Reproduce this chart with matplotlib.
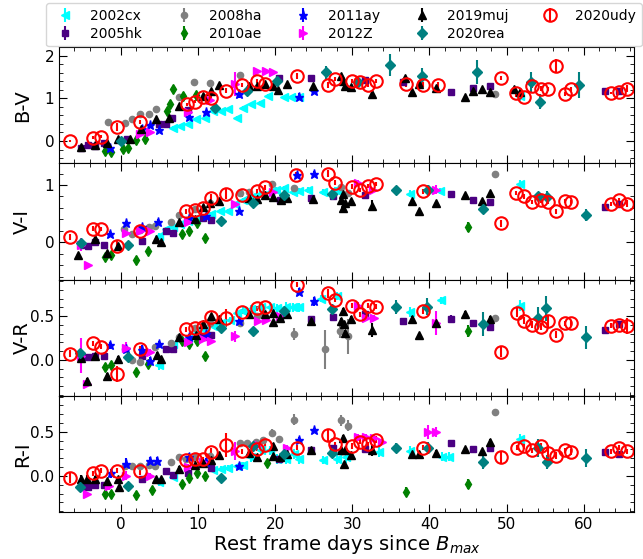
import matplotlib
matplotlib.use("Agg")
import matplotlib.pyplot as plt
from matplotlib.ticker import MultipleLocator

# colour-curve data: (rest-frame day, colour, error)
sn_names = ["2002cx", "2005hk", "2008ha", "2010ae", "2011ay",
            "2012Z", "2019muj", "2020rea", "2020udy"]

cx02_bv = [(6.8, 0.31, .03), (7.7, 0.34, .03), (8.7, 0.39, .03), (9.8, 0.51, .03), (10.9, 0.55, .03),
           (12.0, 0.71, .03), (13.0, 0.71, .03), (13.9, 0.75, .03), (15.0, 0.55, .04), (15.8, 0.78, .03),
           (16.9, 0.86, .03), (18.0, 0.90, .03), (19.1, 1.06, .04), (21.2, 1.02, .04), (22.1, 1.02, .04),
           (23.1, 1.04, .04), (51.7, 1.05, .12)]
cx02_vi = [(4.9, 0.11, .05), (5.9, 0.23, .03), (6.8, 0.26, .03), (7.7, 0.32, .03), (8.7, 0.38, .03),
           (9.8, 0.43, .03), (11.7, 0.49, .03), (12.8, 0.55, .03), (13.9, 0.55, .03), (14.8, 0.67, .04),
           (15.9, 0.74, .04), (16.9, 0.79, .04), (18.0, 0.85, .04), (19.3, 0.88, .05), (20.1, 0.92, .05),
           (21.2, 0.94, .05), (22.3, 0.88, .05), (23.1, 0.90, .05), (24.2, 0.91, .05), (26.2, 0.88, .05),
           (27.7, 0.91, .05), (28.0, 0.91, .05), (37.5, 0.85, .06), (41.3, 0.90, .05), (51.7, 1.02, .07)]
cx02_vr = [(4.9, -0.06, .06), (6.8, 0.18, .03), (7.9, 0.22, .03), (8.7, 0.24, .03), (9.8, 0.31, .03),
           (10.9, 0.34, .03), (11.9, 0.39, .03), (13.0, 0.42, .03), (14.2, 0.46, .03), (15.0, 0.54, .04),
           (15.8, 0.56, .04), (16.9, 0.58, .05), (18.2, 0.61, .05), (19.3, 0.61, .05), (20.3, 0.59, .05),
           (21.4, 0.61, .05), (22.3, 0.60, .05), (23.1, 0.60, .05), (25.9, 0.70, .04), (28.0, 0.73, .05),
           (37.5, 0.55, .06), (41.5, 0.68, .04), (51.7, 0.62, .06)]
cx02_ri = [(4.9, -0.07, .05), (6.8, -0.01, .03), (12.0, 0.07, .03), (13.0, 0.08, .03), (13.9, 0.09, .03),
           (15.0, 0.11, .03), (15.9, 0.12, .04), (16.9, 0.21, .05), (18.2, 0.29, .05), (19.3, 0.29, .05),
           (20.3, 0.19, .06), (21.4, 0.19, .06), (22.4, 0.25, .06), (23.1, 0.19, .06), (26.2, 0.18, .05),
           (28.0, 0.19, .05), (29.2, 0.21, .06), (33.5, 0.27, .06), (37.5, 0.28, .06), (41.6, 0.22, .05),
           (42.5, 0.22, .05), (51.7, 0.42, .06)]

hk05_bv = [(-5.2, -0.16, .03), (-4.3, -0.10, .03), (-3.3, -0.12, .03), (-2.2, -0.05, .03), (0.8, 0.04, .03),
           (4.9, 0.39, .03), (5.9, 0.39, .03), (6.7, 0.53, .03), (8.7, 0.73, .03), (20.5, 1.47, .03),
           (24.6, 1.47, .03), (31.6, 1.43, .03), (36.6, 1.37, .03), (42.8, 1.14, .04), (45.7, 1.23, .03),
           (47.8, 1.29, .03), (62.7, 1.18, .03), (64.6, 1.18, .03)]
hk05_vi = [(-5.2, -0.04, .03), (-4.3, -0.07, .03), (-3.3, 0.00, .03), (-2.2, -0.04, .03), (2.7, 0.02, .03),
           (5.8, 0.20, .03), (6.8, 0.17, .03), (10.7, 0.43, .03), (11.7, 0.39, .03), (20.6, 0.74, .03),
           (24.6, 0.78, .03), (27.5, 0.80, .03), (31.6, 0.83, .03), (42.8, 0.85, .03), (45.7, 0.74, .03),
           (47.8, 0.70, .03), (62.7, 0.61, .03), (64.6, 0.67, .03)]
hk05_vr = [(-5.2, 0.05, .03), (-4.3, 0.03, .03), (-3.3, 0.05, .03), (-2.2, 0.04, .03), (2.7, 0.04, .03),
           (5.8, 0.12, .03), (6.8, 0.13, .03), (10.7, 0.26, .03), (11.7, 0.28, .03), (20.6, 0.49, .03),
           (24.6, 0.47, .03), (27.5, 0.49, .03), (31.6, 0.52, .03), (36.6, 0.45, .03), (42.8, 0.47, .04),
           (45.7, 0.42, .03), (47.8, 0.38, .03), (62.7, 0.34, .03), (64.6, 0.41, .03)]
hk05_ri = [(-5.2, -0.13, .03), (-4.3, -0.13, .03), (-3.3, -0.10, .03), (-2.2, -0.10, .03), (2.7, -0.04, .03),
           (5.8, 0.06, .03), (6.8, 0.01, .03), (8.7, 0.03, .03), (11.7, 0.09, .03), (20.5, 0.19, .03),
           (24.6, 0.29, .03), (27.5, 0.32, .03), (31.6, 0.31, .03), (42.8, 0.37, .04), (45.7, 0.31, .03),
           (47.8, 0.32, .03), (62.7, 0.27, .03), (64.6, 0.25, .03)]

ha08_bv = [(-1.6, 0.45, .05), (0.6, 0.43, .03), (1.5, 0.51, .03), (2.5, 0.64, .03), (3.6, 0.63, .03),
           (4.6, 0.76, .03), (7.6, 1.02, .03), (9.5, 1.37, .03), (11.5, 1.36, .03), (15.4, 1.55, .07),
           (48.5, 1.11, .03)]
ha08_vi = [(0.4, 0.23, .03), (1.4, 0.15, .03), (2.5, 0.21, .03), (3.6, 0.26, .03), (4.4, 0.29, .03),
           (6.5, 0.36, .03), (7.6, 0.48, .03), (9.6, 0.58, .03), (11.5, 0.68, .03), (15.4, 0.86, .03),
           (16.6, 0.88, .03), (19.6, 1.01, .04), (22.5, 0.95, .05), (28.6, 0.96, .04), (29.5, 0.86, .04),
           (48.5, 1.20, .03)]
ha08_vr = [(0.6, 0.12, .03), (1.5, 0.00, .03), (2.5, -0.02, .03), (3.4, 0.09, .03), (4.4, 0.15, .03),
           (6.5, 0.19, .03), (7.6, 0.26, .03), (9.6, 0.37, .03), (11.5, 0.42, .03), (15.4, 0.42, .04),
           (17.6, 0.50, .03), (18.6, 0.53, .03), (22.5, 0.30, .07), (26.5, 0.12, .22), (28.4, 0.33, .08),
           (29.5, 0.27, .20), (48.5, 0.48, .03)]
ha08_ri = [(0.6, 0.11, .03), (1.5, 0.11, .03), (2.5, 0.11, .03), (3.6, 0.12, .03), (4.4, 0.11, .03),
           (6.5, 0.16, .03), (7.6, 0.22, .03), (8.5, 0.19, .03), (9.6, 0.21, .03), (11.5, 0.23, .03),
           (15.5, 0.37, .03), (16.4, 0.37, .03), (17.5, 0.39, .03), (18.4, 0.41, .03), (19.6, 0.49, .04),
           (20.5, 0.42, .03), (22.5, 0.64, .06), (28.5, 0.63, .06), (29.5, 0.57, .06), (48.5, 0.72, .04)]

ae10_bv = [(-2.0, -0.24, .05), (-1.2, -0.26, .05), (0.3, -0.18, .04), (1.0, -0.16, .04), (2.0, 0.02, .04),
           (3.1, 0.05, .04), (6.0, 0.71, .05), (6.4, 0.86, .05), (6.8, 1.22, .05), (8.1, 1.06, .04),
           (9.7, 1.07, .04)]
ae10_vi = [(-2.0, -0.25, .04), (-1.2, -0.22, .04), (2.0, -0.31, .04), (3.5, -0.16, .04), (7.9, 0.15, .04),
           (8.9, 0.20, .04), (9.9, 0.33, .04), (10.9, 0.07, .05), (45.0, 0.27, .09)]
ae10_vr = [(-2.0, -0.08, .03), (-1.2, -0.06, .03), (2.0, -0.14, .03), (3.5, -0.05, .03), (7.9, 0.22, .03),
           (8.9, 0.18, .03), (9.9, 0.22, .03), (10.9, 0.05, .03), (45.0, 0.33, .07)]
ae10_ri = [(-2.0, -0.21, .03), (-1.2, -0.21, .03), (2.0, -0.22, .03), (4.0, -0.16, .03), (7.9, -0.09, .03),
           (8.9, -0.02, .03), (9.9, 0.03, .03), (10.9, 0.00, .04), (18.9, 0.15, .03), (37.0, -0.18, .05),
           (45.0, -0.09, .06)]

ay11_bv = [(-1.4, -0.16, .04), (2.7, 0.29, .04), (3.8, 0.37, .04), (4.9, 0.26, .04), (8.9, 0.57, .04),
           (11.0, 0.68, .04), (15.3, 1.10, .10), (23.1, 1.04, .08), (25.1, 1.18, .06)]
ay11_vi = [(-1.4, 0.15, .05), (0.7, 0.33, .05), (2.7, 0.26, .05), (4.8, 0.36, .05), (8.9, 0.42, .04),
           (11.0, 0.46, .04), (15.3, 0.55, .05), (22.9, 1.18, .04), (25.1, 1.20, .05)]
ay11_vr = [(-1.4, 0.17, .04), (0.7, 0.13, .05), (2.7, 0.11, .06), (3.8, -0.01, .04), (4.9, 0.18, .04),
           (8.9, 0.26, .04), (11.0, 0.30, .04), (15.3, 0.45, .04), (23.1, 0.78, .04), (25.1, 0.67, .05)]
ay11_ri = [(-1.3, 0.03, .05), (0.7, 0.14, .06), (3.8, 0.17, .04), (4.7, 0.17, .04), (8.9, 0.22, .04),
           (11.0, 0.16, .04), (15.3, 0.11, .04), (23.1, 0.41, .03), (25.1, 0.52, .02)]

z12_bv = [(2.5, 0.17, .03), (3.8, 0.20, .03), (8.7, 0.67, .03), (11.5, 0.95, .03), (14.8, 1.33, .28),
          (17.6, 1.65, .03), (18.8, 1.65, .03), (19.7, 1.62, .03)]
z12_vi = [(-5.2, -0.04, .12), (-4.3, -0.40, .02), (0.7, 0.17, .03), (2.5, 0.20, .03), (3.8, 0.20, .03),
          (8.7, 0.35, .03), (14.8, 0.67, .03), (19.7, 0.88, .03), (30.8, 1.04, .04), (32.7, 0.92, .03),
          (40.8, 0.92, .08)]
z12_vr = [(-5.2, 0.05, .20), (-4.4, -0.28, .02), (0.7, 0.14, .06), (3.8, 0.09, .03), (8.7, 0.21, .03),
          (10.7, 0.24, .03), (11.7, 0.22, .03), (14.8, 0.27, .06), (17.8, 0.45, .03), (18.8, 0.46, .03),
          (20.6, 0.50, .03), (30.8, 0.62, .04), (31.8, 0.48, .03), (32.8, 0.48, .03), (40.8, 0.42, .14)]
z12_ri = [(-4.4, -0.21, .02), (-1.5, -0.12, .04), (0.7, 0.00, .05), (3.8, 0.00, .03), (8.7, 0.10, .03),
          (10.7, 0.16, .03), (14.8, 0.28, .10), (17.8, 0.35, .03), (21.6, 0.32, .03), (30.8, 0.44, .04),
          (31.8, 0.44, .04), (32.8, 0.43, .04), (33.9, 0.39, .03), (39.8, 0.50, .08), (40.9, 0.50, .06)]

muj19_bv = [(-5.2, -0.13, .03), (-3.3, -0.10, .03), (-1.8, -0.05, .03), (-0.4, 0.05, .03), (1.2, 0.05, .03),
            (2.6, 0.27, .03), (4.6, 0.51, .03), (6.3, 0.55, .03), (7.6, 0.82, .03), (10.6, 1.06, .03),
            (11.7, 1.18, .03), (12.7, 1.32, .03), (16.6, 1.28, .03), (17.6, 1.29, .03), (18.7, 1.33, .03),
            (19.7, 1.29, .03), (20.4, 1.19, .03), (21.6, 1.33, .03), (24.9, 1.29, .03), (28.6, 1.51, .03),
            (28.8, 1.41, .03), (29.1, 1.29, .03), (29.8, 1.27, .03), (32.6, 1.11, .09), (36.8, 1.47, .04),
            (37.8, 1.14, .03), (38.7, 1.33, .03), (40.8, 1.23, .03), (44.6, 1.02, .03), (45.7, 1.18, .03),
            (46.8, 1.22, .03), (47.8, 1.15, .03), (50.9, 1.22, .03), (51.7, 1.14, .03)]
muj19_vi = [(-5.6, -0.22, .03), (-3.4, 0.05, .03), (-1.8, -0.19, .03), (-0.4, -0.07, .03), (4.6, 0.05, .03),
            (5.2, 0.01, .03), (7.6, 0.36, .03), (9.6, 0.40, .03), (10.7, 0.61, .03), (11.6, 0.68, .03),
            (12.7, 0.72, .03), (16.6, 0.78, .03), (17.6, 0.76, .03), (18.7, 0.83, .03), (19.7, 0.79, .03),
            (20.8, 0.73, .03), (21.6, 0.78, .03), (24.9, 0.76, .03), (28.6, 0.74, .03), (28.8, 0.85, .03),
            (28.8, 0.60, .03), (29.1, 0.68, .03), (29.8, 0.72, .03), (32.6, 0.64, .09), (37.8, 0.72, .03),
            (38.7, 0.54, .03), (40.8, 0.68, .03), (44.6, 0.83, .03), (46.8, 0.72, .03), (47.8, 0.86, .03)]
muj19_vr = [(-5.1, 0.02, .03), (-4.4, -0.24, .03), (-3.3, 0.05, .03), (-1.8, -0.18, .03), (-0.3, 0.01, .03),
            (4.7, 0.06, .03), (5.2, 0.01, .03), (7.6, 0.26, .03), (9.7, 0.29, .03), (10.7, 0.41, .03),
            (11.7, 0.50, .03), (12.7, 0.47, .03), (16.6, 0.52, .03), (18.7, 0.52, .03), (19.7, 0.54, .03),
            (19.7, 0.43, .03), (20.6, 0.48, .03), (21.6, 0.53, .03), (24.6, 0.45, .03), (28.6, 0.45, .03),
            (28.8, 0.56, .03), (28.9, 0.41, .03), (29.1, 0.31, .03), (29.8, 0.47, .03), (32.6, 0.34, .08),
            (37.8, 0.47, .03), (38.7, 0.28, .03), (40.8, 0.42, .03), (44.6, 0.53, .03), (47.8, 0.47, .03)]
muj19_ri = [(-5.2, -0.03, .04), (-4.4, -0.03, .04), (-3.3, -0.04, .04), (-1.8, -0.06, .03), (-0.3, -0.04, .03),
            (-0.2, -0.13, .03), (4.6, -0.04, .03), (5.2, -0.04, .03), (7.6, 0.08, .03), (9.6, 0.12, .03),
            (10.7, 0.15, .03), (11.7, 0.18, .03), (12.7, 0.24, .03), (16.6, 0.26, .03), (17.6, 0.22, .03),
            (19.7, 0.34, .03), (19.7, 0.23, .03), (20.6, 0.21, .03), (21.6, 0.25, .03), (24.6, 0.29, .03),
            (28.6, 0.29, .03), (28.8, 0.43, .03), (28.9, 0.13, .03), (29.1, 0.29, .03), (29.8, 0.24, .03),
            (32.6, 0.29, .06), (37.8, 0.25, .03), (38.7, 0.25, .03), (40.8, 0.26, .03), (44.6, 0.30, .03),
            (46.8, 0.28, .03), (47.8, 0.39, .03)]

rea20_bv = [(0.0, 0.00, .04), (12.2, 0.78, .04), (16.3, 1.18, .05), (20.3, 1.41, .08), (26.6, 1.61, .15),
            (30.8, 1.37, .06), (34.9, 1.78, .26), (39.0, 1.51, .20), (46.1, 1.61, .28), (53.2, 1.37, .25),
            (54.3, 0.92, .17), (59.4, 1.31, .30)]
rea20_vi = [(-5.2, -0.01, .04), (0.9, -0.04, .03), (13.0, 0.38, .03), (17.1, 0.68, .04), (21.2, 0.82, .05),
            (27.4, 0.85, .05), (35.7, 0.92, .07), (39.8, 0.92, .08), (46.9, 0.58, .09), (54.1, 0.80, .08),
            (55.2, 0.79, .10), (60.3, 0.48, .10)]
rea20_vr = [(-5.3, 0.08, .05), (0.9, 0.03, .03), (13.0, 0.36, .03), (17.1, 0.33, .03), (21.2, 0.56, .04),
            (27.4, 0.58, .05), (35.6, 0.60, .08), (39.7, 0.61, .10), (46.9, 0.41, .14), (54.1, 0.48, .12),
            (55.1, 0.59, .14), (60.3, 0.26, .13)]
rea20_ri = [(-5.3, -0.13, .03), (0.9, -0.11, .03), (13.0, -0.02, .03), (17.1, 0.34, .03), (21.2, 0.25, .03),
            (27.4, 0.26, .04), (35.7, 0.32, .05), (39.8, 0.32, .06), (46.9, 0.16, .08), (54.1, 0.32, .10),
            (55.2, 0.16, .08), (60.3, 0.20, .10)]

udy20_bv = [(-6.6, 0.00, .03), (-3.6, 0.08, .04), (-2.5, 0.10, .04), (-0.5, 0.33, .10), (2.5, 0.45, .05),
            (8.6, 0.86, .04), (9.6, 0.92, .04), (10.7, 1.04, .04), (11.7, 1.00, .05), (13.7, 1.18, .05),
            (15.7, 1.31, .04), (17.6, 1.40, .04), (18.7, 1.33, .04), (22.8, 1.53, .07), (26.8, 1.32, .07),
            (27.8, 1.45, .05), (29.9, 1.41, .05), (31.0, 1.37, .06), (32.0, 1.32, .05), (33.1, 1.41, .05),
            (37.0, 1.33, .06), (39.2, 1.32, .05), (41.1, 1.32, .07), (49.3, 1.47, .04), (51.2, 1.12, .10),
            (52.3, 1.02, .06), (53.3, 1.29, .06), (54.4, 1.22, .06), (55.4, 1.22, .04), (56.4, 1.76, .15),
            (57.5, 1.10, .04), (58.4, 1.22, .04), (63.5, 1.12, .03), (64.5, 1.14, .04), (65.6, 1.22, .08)]
udy20_vi = [(-6.6, 0.09, .05), (-3.6, 0.24, .04), (-2.5, 0.23, .04), (-0.5, -0.06, .09), (2.5, 0.20, .04),
            (8.5, 0.54, .04), (9.6, 0.57, .04), (10.7, 0.60, .04), (11.7, 0.78, .06), (13.7, 0.85, .10),
            (15.7, 0.83, .04), (17.6, 0.89, .04), (18.7, 0.96, .04), (22.7, 1.18, .04), (26.8, 1.20, .06),
            (27.8, 1.04, .04), (30.0, 0.97, .04), (31.0, 0.91, .04), (32.0, 0.98, .04), (33.1, 1.02, .04),
            (39.2, 0.89, .04), (49.3, 0.33, .06), (51.2, 0.86, .04), (52.3, 0.80, .04), (53.3, 0.70, .04),
            (54.4, 0.73, .04), (55.4, 0.70, .04), (56.4, 0.54, .04), (57.5, 0.72, .04), (58.4, 0.70, .04),
            (63.5, 0.67, .04), (64.5, 0.73, .04), (65.6, 0.67, .06)]
udy20_vr = [(-6.6, 0.07, .04), (-3.6, 0.19, .03), (-2.5, 0.15, .03), (-0.5, -0.16, .09), (2.5, 0.12, .04),
            (8.5, 0.35, .03), (9.6, 0.36, .03), (10.7, 0.38, .03), (11.7, 0.49, .04), (13.7, 0.48, .10),
            (15.7, 0.55, .03), (17.6, 0.59, .03), (18.7, 0.60, .03), (22.8, 0.86, .03), (26.8, 0.76, .05),
            (27.8, 0.69, .03), (29.9, 0.62, .03), (31.0, 0.52, .03), (32.0, 0.62, .03), (33.1, 0.61, .03),
            (39.2, 0.56, .03), (49.3, 0.09, .06), (51.3, 0.54, .05), (52.3, 0.45, .04), (53.3, 0.40, .04),
            (54.4, 0.38, .04), (55.4, 0.44, .06), (56.4, 0.29, .04), (57.5, 0.42, .03), (58.4, 0.42, .03),
            (63.5, 0.39, .03), (64.5, 0.40, .03), (65.6, 0.39, .09)]
udy20_ri = [(-6.6, -0.02, .06), (-3.6, 0.03, .03), (-2.5, 0.06, .03), (-0.5, 0.06, .03), (2.5, 0.05, .04),
            (8.5, 0.18, .03), (9.6, 0.19, .03), (10.7, 0.19, .03), (11.7, 0.27, .05), (13.7, 0.35, .14),
            (15.7, 0.28, .03), (17.6, 0.31, .03), (18.7, 0.35, .03), (22.8, 0.32, .03), (26.8, 0.46, .06),
            (27.8, 0.36, .03), (29.9, 0.34, .03), (31.0, 0.39, .03), (32.0, 0.36, .03), (33.1, 0.41, .04),
            (39.2, 0.32, .03), (49.3, 0.21, .06), (51.3, 0.32, .03), (52.3, 0.34, .03), (53.3, 0.29, .03),
            (54.4, 0.34, .03), (55.4, 0.26, .09), (56.4, 0.23, .04), (57.5, 0.29, .03), (58.4, 0.27, .03),
            (63.5, 0.28, .03), (64.5, 0.32, .03), (65.6, 0.28, .03)]

colour_labels = ["B-V", "V-I", "V-R", "R-I"]
all_data = {
    "2002cx": [cx02_bv, cx02_vi, cx02_vr, cx02_ri],
    "2005hk": [hk05_bv, hk05_vi, hk05_vr, hk05_ri],
    "2008ha": [ha08_bv, ha08_vi, ha08_vr, ha08_ri],
    "2010ae": [ae10_bv, ae10_vi, ae10_vr, ae10_ri],
    "2011ay": [ay11_bv, ay11_vi, ay11_vr, ay11_ri],
    "2012Z": [z12_bv, z12_vi, z12_vr, z12_ri],
    "2019muj": [muj19_bv, muj19_vi, muj19_vr, muj19_ri],
    "2020rea": [rea20_bv, rea20_vi, rea20_vr, rea20_ri],
    "2020udy": [udy20_bv, udy20_vi, udy20_vr, udy20_ri],
}

styles = {
    "2002cx": dict(fmt="<", color="cyan", ms=6),
    "2005hk": dict(fmt="s", color="indigo", ms=5),
    "2008ha": dict(fmt="o", color="gray", ms=4.5),
    "2010ae": dict(fmt="d", color="green", ms=5),
    "2011ay": dict(fmt="*", color="blue", ms=6.5),
    "2012Z": dict(fmt=">", color="magenta", ms=6),
    "2019muj": dict(fmt="^", color="black", ms=6),
    "2020rea": dict(fmt="D", color="teal", ms=5),
    "2020udy": dict(fmt="o", color="red", ms=9, mfc="none", mew=1.5),
}

ylims = [(-0.52, 2.2), (-0.65, 1.38), (-0.41, 0.92), (-0.41, 0.91)]
ymajor = [1, 1, 0.5, 0.5]
yminor = [0.2, 0.2, 0.1, 0.1]

fig, axes = plt.subplots(4, 1, figsize=(6.43, 5.59), dpi=100, sharex=True)
fig.subplots_adjust(left=59 / 643, right=634 / 643, top=1 - 47 / 559,
                    bottom=1 - 512 / 559, hspace=0)

handles = []
for name in sn_names:
    st = dict(styles[name])
    for i, ax in enumerate(axes):
        pts = all_data[name][i]
        t = [p[0] for p in pts]
        v = [p[1] for p in pts]
        e = [p[2] for p in pts]
        h = ax.errorbar(t, v, yerr=e, fmt=st["fmt"], color=st["color"], ms=st["ms"],
                        mfc=st.get("mfc", st["color"]), mew=st.get("mew", 1),
                        elinewidth=1.5, capsize=0, label=name)
    handles.append(h)

for i, ax in enumerate(axes):
    ax.set_ylim(*ylims[i])
    ax.set_ylabel(colour_labels[i], fontsize=14)
    ax.yaxis.set_major_locator(MultipleLocator(ymajor[i]))
    ax.yaxis.set_minor_locator(MultipleLocator(yminor[i]))
    ax.xaxis.set_major_locator(MultipleLocator(10))
    ax.xaxis.set_minor_locator(MultipleLocator(2))
    ax.tick_params(which="both", direction="in", top=True, right=True, labelsize=11)
    ax.tick_params(which="major", length=6)
    ax.tick_params(which="minor", length=3)
    ax.yaxis.set_label_coords(-0.047, 0.5)

axes[-1].set_xlim(-8, 66.5)
axes[-1].set_xlabel("Rest frame days since $B_{max}$", fontsize=14, labelpad=1)

fig.legend(handles, sn_names, loc="upper left", bbox_to_anchor=(46 / 643, 1 - 3 / 559),
           borderaxespad=0, ncol=5, fontsize=10, columnspacing=2.0, labelspacing=0.3)

fig.savefig("out.png", dpi=100)
